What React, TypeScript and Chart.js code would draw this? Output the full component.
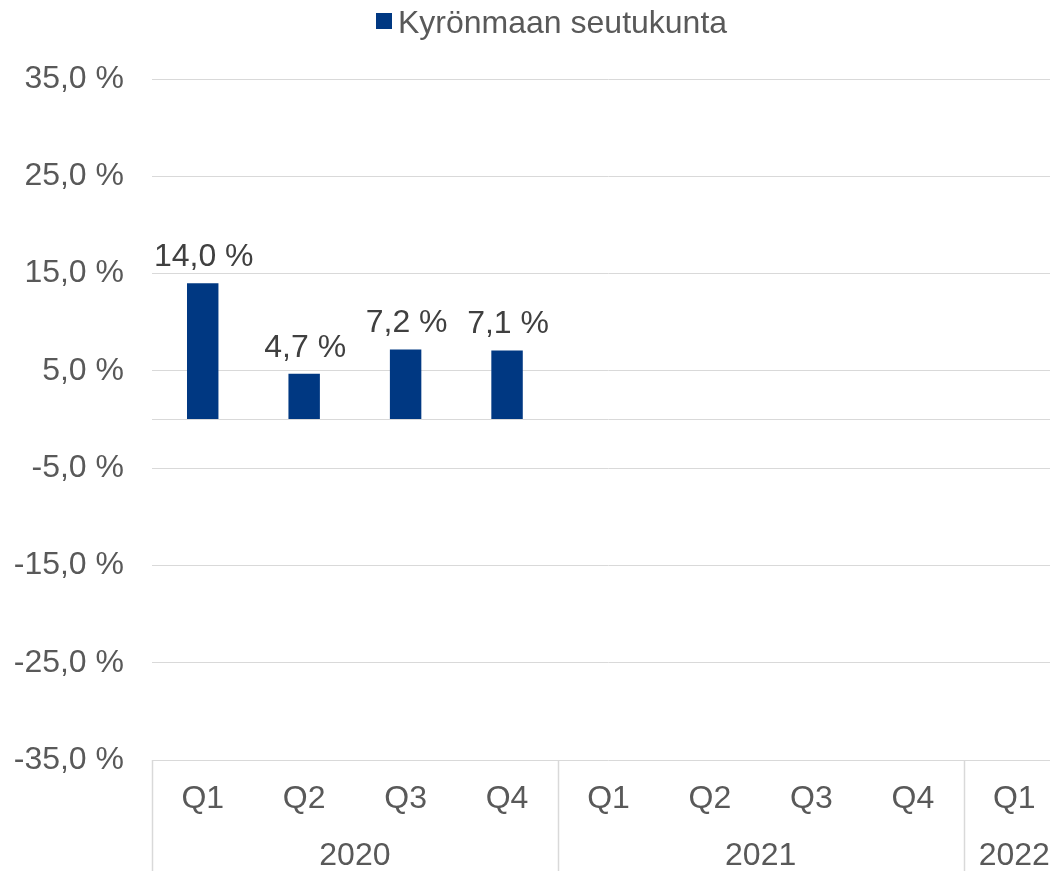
import React, { useEffect, useRef } from "react";
import { Chart, registerables } from "chart.js";

Chart.register(...registerables);

const quarters = ["Q1", "Q2", "Q3", "Q4", "Q1", "Q2", "Q3", "Q4", "Q1"];
const years = ["2020", "2021", "2022"];
const yearSpans = [4, 4, 1];
const seriesName = "Kyrönmaan seutukunta";
const values: (number | null)[] = [14.0, 4.7, 7.2, 7.1, null, null, null, null, null];
const yTicks = [-35, -25, -15, -5, 0, 5, 15, 25, 35];

const FONT = '"Liberation Sans", Arial, sans-serif';
const BAR = "#003882";
const GRID = "#d9d9d9";
const TXT = "#595959";
const LBL = "#404040";
const FS = 32;

const fmt = (v: number) => v.toFixed(1).replace(".", ",") + " %";

const overlay = {
  id: "overlay",
  afterDraw(chart: any) {
    const ctx = chart.ctx;
    const x = chart.scales.x;
    const area = chart.chartArea;
    const H = chart.height;
    ctx.save();
    // legend
    ctx.fillStyle = BAR;
    ctx.fillRect(376, 13, 16, 16);
    ctx.font = `${FS}px ${FONT}`;
    ctx.fillStyle = TXT;
    ctx.textAlign = "left";
    ctx.textBaseline = "alphabetic";
    ctx.fillText(seriesName, 398, 33);

    // data labels
    const meta = chart.getDatasetMeta(0);
    ctx.fillStyle = LBL;
    ctx.textAlign = "center";
    meta.data.forEach((bar: any, i: number) => {
      const v = values[i];
      if (v == null) return;
      ctx.fillText(fmt(v), bar.x + 1, bar.y - 17);
    });

    // year groups
    const half = (x.getPixelForValue(1) - x.getPixelForValue(0)) / 2;
    ctx.strokeStyle = GRID;
    ctx.lineWidth = 1.5;
    let idx = 0;
    years.forEach((yr, g) => {
      const left = x.getPixelForValue(idx) - half;
      const right = x.getPixelForValue(idx + yearSpans[g] - 1) + half;
      ctx.beginPath();
      ctx.moveTo(Math.round(left) + 0.5, area.bottom);
      ctx.lineTo(Math.round(left) + 0.5, H);
      ctx.stroke();
      ctx.fillStyle = TXT;
      ctx.textAlign = "center";
      ctx.textBaseline = "middle";
      ctx.fillText(yr, (left + right) / 2, 856);
      idx += yearSpans[g];
    });
    ctx.restore();
  },
};

export default function App() {
  const ref = useRef<HTMLCanvasElement>(null);
  useEffect(() => {
    if (!ref.current) return;
    const chart = new Chart(ref.current, {
      type: "bar",
      data: {
        labels: quarters,
        datasets: [
          {
            label: seriesName,
            data: values,
            backgroundColor: BAR,
            categoryPercentage: 1,
            barPercentage: 0.31,
          },
        ],
      },
      options: {
        animation: false,
        responsive: false,
        layout: { padding: { top: 79, left: 0, right: 0, bottom: 0 } },
        plugins: { legend: { display: false }, tooltip: { enabled: false } },
        scales: {
          x: {
            grid: { display: false, drawTicks: false },
            border: { display: false },
            ticks: {
              color: TXT,
              font: { family: FONT, size: FS },
              padding: 20,
              maxRotation: 0,
              autoSkip: false,
            },
            afterFit: (s: any) => {
              s.height = 111;
            },
          },
          y: {
            min: -35,
            max: 35,
            afterBuildTicks: (s: any) => {
              s.ticks = yTicks.map((v) => ({ value: v }));
            },
            grid: { color: GRID, lineWidth: 1, drawTicks: false },
            border: { display: false },
            ticks: {
              color: TXT,
              font: { family: FONT, size: FS },
              padding: 28,
              callback: (v: any) => (Number(v) === 0 ? "" : fmt(Number(v))),
            },
            afterFit: (s: any) => {
              s.width = 152;
            },
          },
        },
      },
      plugins: [overlay],
    });
    return () => chart.destroy();
  }, []);
  return (
    <div style={{ position: "absolute", left: 0, top: 0, width: 1065, height: 871 }}>
      <canvas ref={ref} width={1065} height={871} style={{ display: "block" }} />
    </div>
  );
}
